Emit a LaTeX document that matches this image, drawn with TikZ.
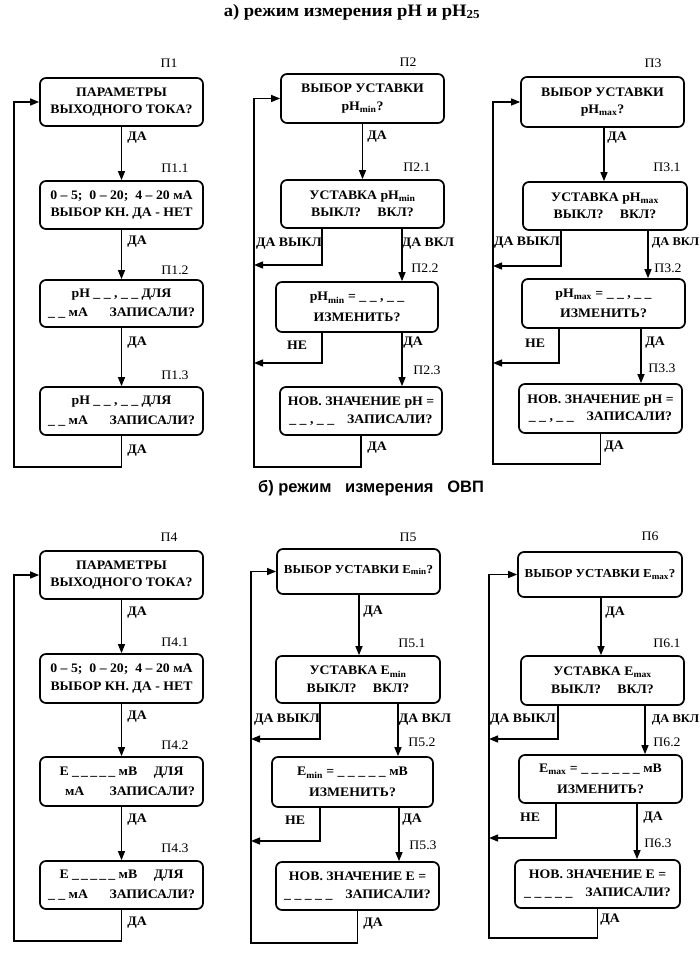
\documentclass[tikz,border=0pt]{standalone}
\usepackage{fontspec}
\setmainfont{Liberation Serif}[FakeStretch=1.06]
\newfontfamily\arialfont{Liberation Sans}
\usetikzlibrary{arrows.meta}
\begin{document}
\begin{tikzpicture}[x=1pt,y=-1pt,
 box/.style={draw, line width=1.7pt, rounded corners=6pt, inner sep=0pt, align=center, font=\bfseries\fontsize{13}{17.5}\selectfont},
 flow/.style={line width=1.3pt, -{Triangle[length=9pt,width=7pt]}},
 lab/.style={font=\bfseries\fontsize{13}{14}\selectfont, inner sep=0pt},
 edgelab/.style={font=\bfseries\fontsize{11.8}{14}\selectfont, inner sep=0pt, anchor=east},
 tag/.style={font=\fontsize{13}{14}\selectfont, inner sep=0pt},
 narrow/.style={font=\bfseries\fontsize{12.2}{14}\selectfont},
]
\useasboundingbox (0,0) rectangle (700,955);
\fill[white] (0,0) rectangle (700,955);

% titles
\node[font=\bfseries\fontsize{17.5}{19}\selectfont] (ta) at (352,12) {а) режим измерения pH и pH\textsubscript{25}};
\node[font=\arialfont\bfseries\fontsize{16.5}{18}\selectfont] (tb) at (371,488) {б) режим\ \ \ измерения\ \ \ ОВП};

% ===== column 1 =====
\node[box, minimum width=163pt, minimum height=48pt] (p1) at (121.5,102) {ПАРАМЕТРЫ\\ВЫХОДНОГО ТОКА?};
\node[box, minimum width=163pt, minimum height=48pt] (p11) at (121.5,205) {0 – 5;\ \ 0 – 20;\ \ 4 – 20 мА\\ВЫБОР КН. ДА - НЕТ};
\node[box, minimum width=163pt, minimum height=47pt] (p12) at (121.5,303.5) {pH \_ \_ , \_ \_ ДЛЯ\\[2pt]\makebox[147pt]{\_ \_ мА\hfill ЗАПИСАЛИ?}};
\node[box, minimum width=163pt, minimum height=48pt] (p13) at (121.5,411) {pH \_ \_ , \_ \_ ДЛЯ\\[2pt]\makebox[147pt]{\_ \_ мА\hfill ЗАПИСАЛИ?}};
\node[tag] (t1) at (169,63) {П1};
\node[tag] (t11) at (175,168) {П1.1};
\node[tag] (t12) at (175,270) {П1.2};
\node[tag] (t13) at (175,375) {П1.3};
\draw[flow] (p1) -- (p11);
\draw[flow] (p11) -- (p12);
\draw[flow] (p12) -- (p13);
\coordinate (B1) at (14,467);
\draw[flow] (p13.south) |- (B1) |- (p1.west);
\node[lab] (d11) at (137,138) {ДА};
\node[lab] (d12) at (137,242) {ДА};
\node[lab] (d13) at (137,343) {ДА};
\node[lab] (d14) at (137,451) {ДА};

% ===== column 2 =====
\node[box, minimum width=163pt, minimum height=49pt] (p2) at (362.5,98.5) {ВЫБОР УСТАВКИ\\pH\textsubscript{min}?};
\node[box, minimum width=163pt, minimum height=48pt] (p21) at (362.5,204) {УСТАВКА pH\textsubscript{min}\\ВЫКЛ?\quad\ ВКЛ?};
\node[box, minimum width=162pt, minimum height=50pt] (p22) at (357,307) {pH\textsubscript{min} = \_ \_ , \_ \_\\[3pt]ИЗМЕНИТЬ?};
\node[box, minimum width=162pt, minimum height=48pt] (p23) at (361,411) {НОВ. ЗНАЧЕНИЕ pH =\\\_ \_ , \_ \_\quad ЗАПИСАЛИ?};
\node[tag] (t2) at (408,62) {П2};
\node[tag] (t21) at (417,167) {П2.1};
\node[tag] (t22) at (425,268) {П2.2};
\node[tag] (t23) at (427,370) {П2.3};
\coordinate (L2) at (254,0);
\coordinate (R2) at (402,0);
\coordinate (a21) at (322,265);
\coordinate (a22) at (322,363);
\coordinate (B2) at (254,467);
\draw[flow] (p2) -- (p21);
\draw[flow] (p21.south -| a21) -- (a21) -- (a21 -| L2);
\draw[flow] (p21.south -| R2) -- (p22.north -| R2);
\draw[flow] (p22.south -| a22) -- (a22) -- (a22 -| L2);
\draw[flow] (p22.south -| R2) -- (p23.north -| R2);
\draw[flow] (p23.south) |- (B2) |- (p2.west);
\node[lab] (d21) at (377,137) {ДА};
\node[lab] (d22) at (289,244) {ДА ВЫКЛ};
\node[lab] (d23) at (428,244) {ДА ВКЛ};
\node[lab] (d24) at (297,345) {НЕ};
\node[lab] (d25) at (413,343) {ДА};
\node[lab] (d26) at (377,448) {ДА};

% ===== column 3 =====
\node[box, minimum width=163pt, minimum height=50pt] (p3) at (602.5,102) {ВЫБОР УСТАВКИ\\pH\textsubscript{max}?};
\node[box, minimum width=164pt, minimum height=48pt] (p31) at (605,206) {УСТАВКА pH\textsubscript{max}\\ВЫКЛ?\quad\ ВКЛ?};
\node[box, minimum width=163pt, minimum height=49pt] (p32) at (603.5,303.5) {pH\textsubscript{max} = \_ \_ , \_ \_\\[3pt]ИЗМЕНИТЬ?};
\node[box, minimum width=163pt, minimum height=49pt] (p33) at (600.5,408.5) {НОВ. ЗНАЧЕНИЕ pH =\\\_ \_ , \_ \_\quad ЗАПИСАЛИ?};
\node[tag] (t3) at (653,63) {П3};
\node[tag] (t31) at (667,167) {П3.1};
\node[tag] (t32) at (668,268) {П3.2};
\node[tag] (t33) at (662,368) {П3.3};
\coordinate (L3) at (493,0);
\coordinate (C3) at (604,0);
\coordinate (R3a) at (648,0);
\coordinate (R3b) at (641,0);
\coordinate (a31) at (561,266);
\coordinate (a32) at (559,363);
\coordinate (B3) at (493,464);
\draw[flow] (p3.south -| C3) -- (p31.north -| C3);
\draw[flow] (p31.south -| a31) -- (a31) -- (a31 -| L3);
\draw[flow] (p31.south -| R3a) -- (p32.north -| R3a);
\draw[flow] (p32.south -| a32) -- (a32) -- (a32 -| L3);
\draw[flow] (p32.south -| R3b) -- (p33.north -| R3b);
\draw[flow] (p33.south) |- (B3) |- (p3.west);
\node[lab] (d31) at (617,138) {ДА};
\node[lab] (d32) at (527,243) {ДА ВЫКЛ};
\node[edgelab] (d33) at (699.5,243) {ДА ВКЛ};
\node[lab] (d34) at (535,343) {НЕ};
\node[lab] (d35) at (655,343) {ДА};
\node[lab] (d36) at (614,447) {ДА};

% ===== column 4 =====
\node[box, minimum width=163pt, minimum height=48pt] (p4) at (121.5,575) {ПАРАМЕТРЫ\\ВЫХОДНОГО ТОКА?};
\node[box, minimum width=163pt, minimum height=49pt] (p41) at (121.5,678.5) {0 – 5;\ \ 0 – 20;\ \ 4 – 20 мА\\ВЫБОР КН. ДА - НЕТ};
\node[box, minimum width=163pt, minimum height=49pt] (p42) at (121.5,781.5) {E \_\,\_\,\_\,\_\,\_ мВ\quad\ ДЛЯ\\[3pt]\makebox[147pt]{\hspace{17pt}мА\hfill ЗАПИСАЛИ?}};
\node[box, minimum width=163pt, minimum height=48pt] (p43) at (121.5,885) {E \_\,\_\,\_\,\_\,\_ мВ\quad\ ДЛЯ\\[2pt]\makebox[147pt]{\_ \_ мА\hfill ЗАПИСАЛИ?}};
\node[tag] (t4) at (169,537) {П4};
\node[tag] (t41) at (175,642) {П4.1};
\node[tag] (t42) at (175,745) {П4.2};
\node[tag] (t43) at (175,848) {П4.3};
\draw[flow] (p4) -- (p41);
\draw[flow] (p41) -- (p42);
\draw[flow] (p42) -- (p43);
\coordinate (B4) at (14,941);
\draw[flow] (p43.south) |- (B4) |- (p4.west);
\node[lab] (d41) at (137,613) {ДА};
\node[lab] (d42) at (137,717) {ДА};
\node[lab] (d43) at (137,820) {ДА};
\node[lab] (d44) at (137,923) {ДА};

% ===== column 5 =====
\node[box, narrow, minimum width=163pt, minimum height=45pt] (p5) at (358.5,571.5) {\raisebox{5pt}{ВЫБОР УСТАВКИ E\textsubscript{min}?}};
\node[box, minimum width=164pt, minimum height=47pt] (p51) at (358,679.5) {УСТАВКА E\textsubscript{min}\\ВЫКЛ?\quad\ ВКЛ?};
\node[box, minimum width=161pt, minimum height=50pt] (p52) at (352.5,782) {E\textsubscript{min} = \_ \_ \_ \_ \_ мВ\\[3pt]ИЗМЕНИТЬ?};
\node[box, minimum width=163pt, minimum height=48pt] (p53) at (357.5,886) {НОВ. ЗНАЧЕНИЕ E =\\\_ \_ \_ \_ \_\quad ЗАПИСАЛИ?};
\node[tag] (t5) at (408,537) {П5};
\node[tag] (t51) at (412,643) {П5.1};
\node[tag] (t52) at (422,742) {П5.2};
\node[tag] (t53) at (423,845) {П5.3};
\coordinate (L5) at (251,0);
\coordinate (C5) at (359,0);
\coordinate (R5a) at (398,0);
\coordinate (R5b) at (399,0);
\coordinate (a51) at (320,739);
\coordinate (a52) at (320,841);
\coordinate (B5) at (251,943);
\draw[flow] (p5.south -| C5) -- (p51.north -| C5);
\draw[flow] (p51.south -| a51) -- (a51) -- (a51 -| L5);
\draw[flow] (p51.south -| R5a) -- (p52.north -| R5a);
\draw[flow] (p52.south -| a52) -- (a52) -- (a52 -| L5);
\draw[flow] (p52.south -| R5b) -- (p53.north -| R5b);
\draw[flow] (p53.south) |- (B5) |- (p5.west);
\node[lab] (d51) at (373,612) {ДА};
\node[lab] (d52) at (287,720) {ДА ВЫКЛ};
\node[lab] (d53) at (425,720) {ДА ВКЛ};
\node[lab] (d54) at (295,820) {НЕ};
\node[lab] (d55) at (412,820) {ДА};
\node[lab] (d56) at (373,924) {ДА};

% ===== column 6 =====
\node[box, narrow, minimum width=164pt, minimum height=45pt] (p6) at (600,574.5) {ВЫБОР УСТАВКИ E\textsubscript{max}?};
\node[box, minimum width=163pt, minimum height=49pt] (p61) at (602.5,680.5) {УСТАВКА E\textsubscript{max}\\ВЫКЛ?\quad\ ВКЛ?};
\node[box, minimum width=163pt, minimum height=48pt] (p62) at (600.5,779) {E\textsubscript{max} = \_ \_ \_ \_ \_ \_ мВ\\[3pt]ИЗМЕНИТЬ?};
\node[box, minimum width=165pt, minimum height=48pt] (p63) at (597.5,884) {НОВ. ЗНАЧЕНИЕ E =\\\_ \_ \_ \_ \_\quad ЗАПИСАЛИ?};
\node[tag] (t6) at (650,536) {П6};
\node[tag] (t61) at (667,643) {П6.1};
\node[tag] (t62) at (667,742) {П6.2};
\node[tag] (t63) at (658,843) {П6.3};
\coordinate (L6) at (489,0);
\coordinate (C6) at (601,0);
\coordinate (R6a) at (645,0);
\coordinate (R6b) at (637,0);
\coordinate (a61) at (558,739);
\coordinate (a62) at (556,838);
\coordinate (B6) at (489,938);
\draw[flow] (p6.south -| C6) -- (p61.north -| C6);
\draw[flow] (p61.south -| a61) -- (a61) -- (a61 -| L6);
\draw[flow] (p61.south -| R6a) -- (p62.north -| R6a);
\draw[flow] (p62.south -| a62) -- (a62) -- (a62 -| L6);
\draw[flow] (p62.south -| R6b) -- (p63.north -| R6b);
\draw[flow] (p63.south) |- (B6) |- (p6.west);
\node[lab] (d61) at (615,613) {ДА};
\node[lab] (d62) at (523,720) {ДА ВЫКЛ};
\node[edgelab] (d63) at (699.5,720) {ДА ВКЛ};
\node[lab] (d64) at (530,817) {НЕ};
\node[lab] (d65) at (653,818) {ДА};
\node[lab] (d66) at (610,920) {ДА};
\end{tikzpicture}
\end{document}
